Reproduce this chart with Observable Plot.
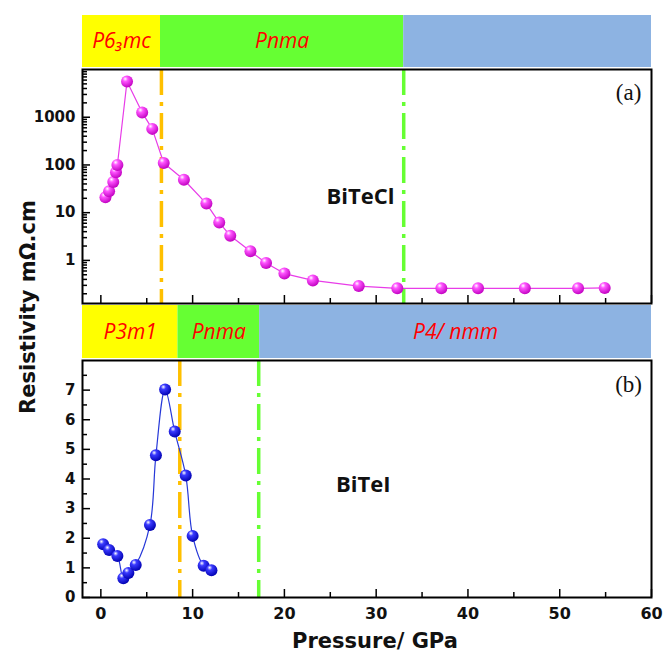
<!DOCTYPE html>
<html><head><meta charset="utf-8">
<script src="https://cdn.jsdelivr.net/npm/d3@7"></script>
<script src="https://cdn.jsdelivr.net/npm/@observablehq/plot@0.6"></script>
<style>
body{margin:0;background:#fff;}
#wrap{position:relative;width:663px;height:657px;overflow:hidden;background:#fff;}
#wrap svg{position:absolute;left:0;overflow:visible;background:transparent;}
.ttl{position:absolute;font-family:"DejaVu Sans",sans-serif;font-weight:bold;color:#111;white-space:nowrap;text-align:center;}
</style></head>
<body><div id="wrap"></div>
<script>
// ---- data ----
const pressureA = [0.5, 0.9, 1.35, 1.65, 1.8, 2.85, 4.5, 5.6, 6.85, 9.05, 11.5, 12.9, 14.1, 16.3, 18.0, 20.0, 23.1, 28.1, 32.3, 37.1, 41.1, 46.2, 52.0, 54.9];
const resistA = [21, 28, 44, 70, 100, 5600, 1250, 570, 110, 49, 15.5, 6.2, 3.3, 1.55, 0.88, 0.53, 0.38, 0.29, 0.26, 0.26, 0.26, 0.26, 0.26, 0.265];
const pressureB = [0.25, 0.9, 1.8, 2.45, 3.0, 3.8, 5.35, 6.0, 7.0, 8.05, 9.25, 10.0, 11.2, 12.05];
const resistB = [1.8, 1.6, 1.4, 0.65, 0.83, 1.1, 2.45, 4.8, 7.02, 5.6, 4.12, 2.08, 1.07, 0.92];

const phasesA = ["P6\u2083mc", "Pnma", ""];
const boundsA = [-2, 6.5, 33, 60];
const phasesB = ["P3m1", "Pnma", "P4/ nmm"];
const boundsB = [-2, 8.4, 17.3, 60];
const phaseColors = ["#FFFF00", "#66FF33", "#8DB3E2"];
const transitionsA = [6.6, 33];
const transitionsB = [8.6, 17.2];
const transitionColors = ["#FFC000", "#66FF33"];

const xMajor = [0, 10, 20, 30, 40, 50, 60];
const xMinor = [5, 15, 25, 35, 45, 55];
const yMajorA = [1, 10, 100, 1000];
const yMinorA = [0.2,0.3,0.4,0.5,0.6,0.7,0.8,0.9,2,3,4,5,6,7,8,9,20,30,40,50,60,70,80,90,200,300,400,500,600,700,800,900,2000,3000,4000,5000,6000,7000,8000,9000];
const yMajorB = [0, 1, 2, 3, 4, 5, 6, 7];
const yMinorB = [0.5, 1.5, 2.5, 3.5, 4.5, 5.5, 6.5, 7.5];

const labelA = "BiTeCl", labelB = "BiTeI";

// ---- layout ----
const W = 663, ML = 82, MR = 12;
const xDomain = [-2, 60];
const wrap = document.getElementById("wrap");
const SVGNS = "http://www.w3.org/2000/svg";

function addGradient(svg, id, c0, c1, c2) {
  const defs = document.createElementNS(SVGNS, "defs");
  const g = document.createElementNS(SVGNS, "radialGradient");
  g.setAttribute("id", id);
  g.setAttribute("cx", "0.38"); g.setAttribute("cy", "0.32"); g.setAttribute("r", "0.7");
  g.setAttribute("fx", "0.35"); g.setAttribute("fy", "0.28");
  [[0, c0], [0.3, c1], [1, c2]].forEach(([o, c]) => {
    const s = document.createElementNS(SVGNS, "stop");
    s.setAttribute("offset", o); s.setAttribute("stop-color", c);
    g.appendChild(s);
  });
  defs.appendChild(g);
  svg.insertBefore(defs, svg.firstChild);
}

function place(svg, top) {
  svg.style.top = top + "px";
  wrap.appendChild(svg);
}

function band(bounds, names, top, h) {
  const rows = names.map((n, i) => ({x1: bounds[i], x2: bounds[i + 1], name: n, color: phaseColors[i]}));
  const svg = Plot.plot({
    width: W, height: h, marginLeft: ML, marginRight: MR, marginTop: 0, marginBottom: 0,
    x: {domain: xDomain, axis: null},
    marks: [
      Plot.rect(rows, {x1: "x1", x2: "x2", fill: "color"}),
      Plot.text(rows, {x: d => (d.x1 + d.x2) / 2, text: "name", fill: "#FF0000", fontSize: 21,
        fontStyle: "italic", fontFamily: "Open Sans", frameAnchor: "middle"})
    ]
  });
  place(svg, top);
}

function inwardAxes(yMaj, yMin, withXLabels, yFmt) {
  const common = {label: null, stroke: "#000", strokeWidth: 1.5};
  const m = [
    Plot.axisX(xMajor, {...common, anchor: "bottom", tickSize: -8, fill: "none"}),
    Plot.axisX(xMinor, {...common, anchor: "bottom", tickSize: -5, fill: "none"}),
    Plot.axisY(yMaj, {...common, anchor: "left", tickSize: -8, fill: "none"}),
    Plot.axisY(yMin, {...common, anchor: "left", tickSize: -5, fill: "none"}),
    Plot.axisY(yMaj, {label: null, anchor: "left", tickSize: 0, tickPadding: 7, tickFormat: yFmt,
      fill: "#111", fontSize: 15, fontWeight: "bold", fontFamily: "DejaVu Sans"})
  ];
  if (withXLabels) m.push(Plot.axisX(xMajor, {label: null, anchor: "bottom", tickSize: 0, tickPadding: 10,
      tickFormat: d => String(d), fill: "#111", fontSize: 16, fontWeight: "bold", fontFamily: "DejaVu Sans"}));
  return m;
}

// top band A
band(boundsA, phasesA, 15, 52);

// panel A
{
  const data = pressureA.map((p, i) => ({p, r: resistA[i]}));
  const svg = Plot.plot({
    width: W, height: 244, marginLeft: ML, marginRight: MR, marginTop: 5, marginBottom: 5,
    x: {domain: xDomain},
    y: {type: "log", domain: [0.125, 10000]},
    marks: [
      Plot.ruleX([transitionsA[0]], {x: d => d, stroke: transitionColors[0], strokeWidth: 3.5, strokeDasharray: "26,7,4,7"}),
      Plot.ruleX([transitionsA[1]], {x: d => d, stroke: transitionColors[1], strokeWidth: 3.5, strokeDasharray: "26,7,4,7"}),
      Plot.line(data, {x: "p", y: "r", stroke: "#E83CE8", strokeWidth: 1.2}),
      Plot.dot(data, {x: "p", y: "r", r: 6, fill: "url(#gradA)", stroke: "none"}),
      Plot.text([labelA], {x: 28.3, y: 21, text: d => d, fontSize: 22, fontWeight: "bold", fontFamily: "Open Sans", fill: "#111"}),
      Plot.text(["(a)"], {x: 57.5, y: 3200, text: d => d, fontSize: 23, fontFamily: "Liberation Serif", fill: "#111"}),
      ...inwardAxes(yMajorA, yMinorA, false, d => String(d)),
      Plot.frame({stroke: "#000", strokeWidth: 2})
    ]
  });
  addGradient(svg, "gradA", "#FFFFFF", "#FF55FF", "#C000C0");
  place(svg, 64);
}

// band B
band(boundsB, phasesB, 305, 53);

// panel B
{
  const data = pressureB.map((p, i) => ({p, r: resistB[i]}));
  const svg = Plot.plot({
    width: W, height: 282, marginLeft: ML, marginRight: MR, marginTop: 5, marginBottom: 40,
    x: {domain: xDomain},
    y: {domain: [0, 8]},
    marks: [
      Plot.ruleX([transitionsB[0]], {x: d => d, stroke: transitionColors[0], strokeWidth: 3.5, strokeDasharray: "26,7,4,7"}),
      Plot.ruleX([transitionsB[1]], {x: d => d, stroke: transitionColors[1], strokeWidth: 3.5, strokeDasharray: "26,7,4,7"}),
      Plot.line(data, {x: "p", y: "r", stroke: "#2638D8", strokeWidth: 1.2, curve: "catmull-rom"}),
      Plot.dot(data, {x: "p", y: "r", r: 6, fill: "url(#gradB)", stroke: "none"}),
      Plot.text([labelB], {x: 28.6, y: 3.8, text: d => d, fontSize: 22, fontWeight: "bold", fontFamily: "Open Sans", fill: "#111"}),
      Plot.text(["(b)"], {x: 57.5, y: 7.2, text: d => d, fontSize: 23, fontFamily: "Liberation Serif", fill: "#111"}),
      ...inwardAxes(yMajorB, yMinorB, true, d => String(d)),
      Plot.frame({stroke: "#000", strokeWidth: 2})
    ]
  });
  addGradient(svg, "gradB", "#FFFFFF", "#3A3AFF", "#0000B0");
  place(svg, 355);
}

// titles
const yt = document.createElement("div");
yt.className = "ttl";
yt.textContent = "Resistivity m\u03A9.cm";
Object.assign(yt.style, {fontSize: "21px", width: "300px", lineHeight: "24px", left: (28 - 150) + "px", top: (307 - 12) + "px", transform: "rotate(-90deg)"});
wrap.appendChild(yt);

const xt = document.createElement("div");
xt.className = "ttl";
xt.textContent = "Pressure/ GPa";
Object.assign(xt.style, {fontSize: "21px", width: "300px", lineHeight: "24px", left: (375 - 150) + "px", top: (641 - 12) + "px"});
wrap.appendChild(xt);
</script>
</body></html>
